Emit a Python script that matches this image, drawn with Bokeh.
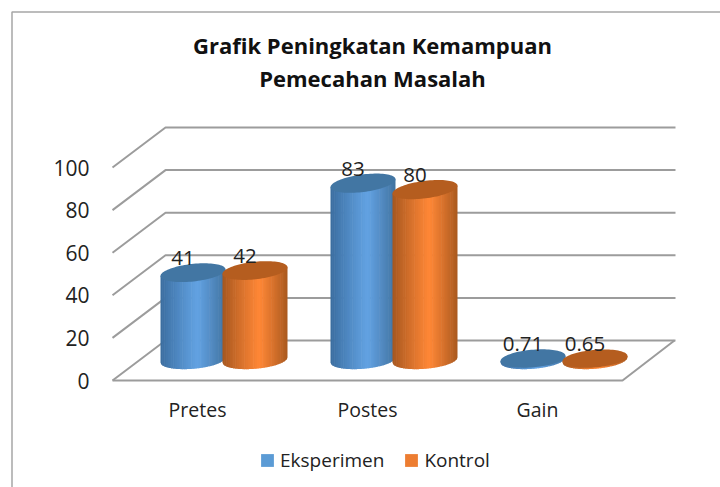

import numpy as np
from bokeh.plotting import figure
from bokeh.models import Range1d, LinearAxis, FixedTicker, Legend, LegendItem
from bokeh.core.properties import value
from bokeh.embed import file_html
from bokeh.resources import INLINE

# ---- data ----
categories = ["Pretes", "Postes", "Gain"]
eksperimen = [41, 83, 0.71]
kontrol = [42, 80, 0.65]
labels_eksperimen = ["41", "83", "0.71"]
labels_kontrol = ["42", "80", "0.65"]
y_ticks = [0, 20, 40, 60, 80, 100]
title_lines = ["Grafik Peningkatan Kemampuan", "Pemecahan Masalah"]
series_names = ["Eksperimen", "Kontrol"]

# ---- styling / layout ----
FONT = "Open Sans"
TXT = "#222222"
GRID = "#9c9c9c"
BLUE_LEG, ORANGE_LEG = "#5b9bd5", "#ed7d31"
BLUE = ("#3a6c9e", "#62a2e2", "#41729f")
ORANGE = ("#a5561f", "#ff8736", "#a9591f")
CAP_BLUE, CAP_ORANGE = "#4276a3", "#b55d1f"

W, H = 720, 487
ORIGIN = 0
PX_PER_UNIT = 2.13          # pixels per value unit
Y0 = 380                    # page pixel of value 0 on the front edge
X_FRONT, X_FRONT_END = 112, 622
DX, DY = 53, 40             # depth of the 3D box, pixels
CAT_X0, CAT_STEP = 197, 170 # page x of category labels
BAR_OFF = 31                # half distance between paired cylinders
A, B = 32.5, 8.8            # cylinder cap half-width, half-height
BASE_LIFT = 20.5 / PX_PER_UNIT # floor centre above front edge in value units

def v_of(py):
    return (Y0 - py) / PX_PER_UNIT

def tilt(val):
    # caps higher up the chart lean a little more, as in the perspective of the picture
    return 0.08 + 0.0005 * val

p = figure(width=W, height=H, output_backend="svg", toolbar_location=None,
           x_range=Range1d(ORIGIN, ORIGIN + W), y_range=Range1d(v_of(ORIGIN + H), v_of(ORIGIN)),
           min_border=0, min_border_left=0, min_border_right=0,
           min_border_top=0, min_border_bottom=0,
           x_axis_type=None, y_axis_type=None, outline_line_color=None)
p.grid.visible = False

# chart border: only top and left are in the picture
p.line([11.5, 11.5, ORIGIN + W], [v_of(ORIGIN + H), v_of(11.5), v_of(11.5)], line_color="#a6a6a6", line_width=1.5)

# back wall and left wall
lift = DY / PX_PER_UNIT
for t in y_ticks:
    p.line([X_FRONT, X_FRONT + DX, X_FRONT + DX + 510], [t, t + lift, t + lift],
           line_color=GRID, line_width=2)
# floor front edge and right edge
p.line([X_FRONT, X_FRONT_END, X_FRONT_END + DX - 1], [0, 0, lift], line_color=GRID, line_width=2)

def mix(c1, c2, f):
    a = np.array([int(c1[i:i + 2], 16) for i in (1, 3, 5)], float)
    b = np.array([int(c2[i:i + 2], 16) for i in (1, 3, 5)], float)
    r = a + (b - a) * f
    return "#%02x%02x%02x" % tuple(int(round(x)) for x in r)

def cylinder(cx, val, ramp, cap):
    n = 36
    s0, s1 = tilt(0), tilt(val)
    edges = np.linspace(-A, A, n + 1)
    xs, ys, cols = [], [], []
    for i in range(n):
        u0, u1 = edges[i], edges[i + 1]
        um = 0.5 * (u0 + u1)
        t = (um + A) / (2 * A)
        peak = 0.56
        if t < peak:
            col = mix(ramp[0], ramp[1], (t / peak) ** 0.9)
        else:
            col = mix(ramp[1], ramp[2], ((t - peak) / (1 - peak)) ** 1.1)
        uu = np.linspace(u0, min(u1 + 0.6, A), 4)
        low = BASE_LIFT + (s0 * uu - B * np.sqrt(np.clip(1 - (uu / A) ** 2, 0, 1))) / PX_PER_UNIT
        top = BASE_LIFT + val + s1 * uu / PX_PER_UNIT
        xs.append(list(cx + uu) + list(cx + uu[::-1]))
        ys.append(list(low) + list(top[::-1]))
        cols.append(col)
    p.patches(xs, ys, fill_color=cols, line_color=None)
    th = np.linspace(0, 2 * np.pi, 90)
    u = A * np.cos(th)
    cy = BASE_LIFT + val + (s1 * u + B * np.sin(th)) / PX_PER_UNIT
    p.patch(cx + u, cy, fill_color=cap, line_color=None)

centers = [CAT_X0 + CAT_STEP * i + DX / 2 for i in range(len(categories))]
label_rise = 14.5 / PX_PER_UNIT
for i, c in enumerate(centers):
    cylinder(c - BAR_OFF, eksperimen[i], BLUE, CAP_BLUE)
    cylinder(c + BAR_OFF, kontrol[i], ORANGE, CAP_ORANGE)

lx, ly, lt = [], [], []
for i, c in enumerate(centers):
    lx += [c - BAR_OFF - 10, c + BAR_OFF - 10]
    ly += [BASE_LIFT + eksperimen[i] + label_rise, BASE_LIFT + kontrol[i] + label_rise]
    lt += [labels_eksperimen[i], labels_kontrol[i]]
p.text(lx, ly, text=lt, text_font=value(FONT), text_font_size="20.5px", text_color=TXT,
       text_align="center", text_baseline="middle")

# title
p.text([372, 372], [v_of(44), v_of(77)], text=title_lines, text_font=value(FONT),
       text_font_size="22px", text_font_style="bold", text_color="#111111",
       text_align="center", text_baseline="middle")

# axes
yax = LinearAxis(ticker=FixedTicker(ticks=y_ticks), fixed_location=X_FRONT)
yax.axis_line_color = None
yax.major_tick_line_color = None
yax.minor_tick_line_color = None
yax.major_label_standoff = 17
yax.major_label_text_font = FONT
yax.major_label_text_font_size = "21px"
yax.major_label_text_color = TXT
p.add_layout(yax, "left")

cat_ticks = [CAT_X0 + CAT_STEP * i for i in range(len(categories))]
xax = LinearAxis(ticker=FixedTicker(ticks=cat_ticks), fixed_location=0,
                 major_label_overrides={t: n for t, n in zip(cat_ticks, categories)})
xax.axis_line_color = None
xax.major_tick_line_color = None
xax.minor_tick_line_color = None
xax.major_label_standoff = 9
xax.major_label_text_font = FONT
xax.major_label_text_font_size = "19.5px"
xax.major_label_text_color = TXT
p.add_layout(xax, "below")

# legend
r1 = p.quad(left=[np.nan], right=[np.nan], top=[np.nan], bottom=[np.nan], fill_color=BLUE_LEG, line_color=None)
r2 = p.quad(left=[np.nan], right=[np.nan], top=[np.nan], bottom=[np.nan], fill_color=ORANGE_LEG, line_color=None)
leg = Legend(items=[LegendItem(label=series_names[0], renderers=[r1]),
                    LegendItem(label=series_names[1], renderers=[r2])],
             orientation="horizontal", location=(259, 14),
             border_line_color=None, background_fill_alpha=0, padding=0, margin=0,
             glyph_width=16, glyph_height=16, label_standoff=5, spacing=19,
             label_text_font=FONT, label_text_font_size="19px", label_text_color=TXT)
p.add_layout(leg, "center")

open("out.html", "w").write(file_html(p, INLINE))
